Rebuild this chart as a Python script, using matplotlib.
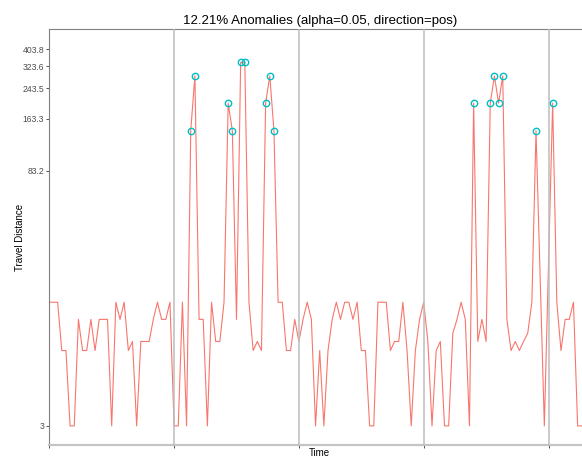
import numpy as np
import matplotlib
matplotlib.use("Agg")
import matplotlib.pyplot as plt

plt.rcParams['font.family'] = ['Liberation Sans', 'DejaVu Sans']

# travel distance per time step (log scale)
distance = [
    15, 15, 15, 8, 8, 3, 3, 12, 8, 8,
    12, 8, 12, 12, 12, 3, 15, 12, 15, 8,
    9, 3, 9, 9, 9, 12, 15, 12, 12, 15,
    3, 3, 15, 3, 140, 285, 12, 12, 3, 15,
    9, 9, 15, 200, 140, 12, 340, 340, 15, 8,
    9, 8, 200, 285, 140, 15, 15, 8, 8, 12,
    9, 12, 15, 12, 3, 8, 3, 8, 12, 15,
    12, 15, 15, 12, 15, 8, 8, 3, 3, 15,
    15, 15, 8, 9, 9, 15, 8, 3, 8, 12,
    15, 9, 3, 8, 9, 3, 3, 10, 12, 15,
    12, 3, 200, 9, 12, 9, 200, 285, 200, 285,
    12, 8, 9, 8, 9, 10, 15, 140, 20, 3,
    25, 200, 15, 8, 12, 12, 15, 3, 3, 3, 8,
]
anomaly_idx = [34, 35, 43, 44, 46, 47, 52, 53, 54,
               102, 106, 107, 108, 109, 117, 121]
day_breaks = [30, 60, 90, 120]
y_ticks = [3, 83.2, 163.3, 243.5, 323.6, 403.8]
y_tick_labels = ['3', '83.2', '163.3', '243.5', '323.6', '403.8']

x = np.arange(len(distance))
y = np.array(distance, dtype=float)

W, H = 582, 457
fig = plt.figure(figsize=(W / 100, H / 100), dpi=100)
left, right, top, bottom = 49.3, 590.1, 29.3, 445.0
ax = fig.add_axes([left / W, (H - bottom) / H, (right - left) / W, (bottom - top) / H])

ax.plot(x, y, color='#F8766D', lw=0.8, zorder=2)
ax.plot(x[anomaly_idx], y[anomaly_idx], 'o', ms=4.6, mfc='none',
        mec='#00BFC4', mew=1.0, zorder=4)
for b in day_breaks:
    ax.axvline(b, color='#bdbdbd', lw=1.1, zorder=3)

ax.set_yscale('log')
ax.set_ylim(2.34, 523)
ax.set_xlim(0, len(distance) - 1)
ax.set_yticks(y_ticks)
ax.set_yticklabels(y_tick_labels)
ax.yaxis.set_minor_locator(matplotlib.ticker.NullLocator())
ax.set_xticks([0] + day_breaks)
ax.set_xticklabels([])
ax.tick_params(axis='both', length=2.2, width=0.6, color='#333333',
               labelsize=6.2, labelcolor='#4d4d4d', pad=1.5)

for s in ['left', 'top', 'right']:
    ax.spines[s].set_color('#808080')
    ax.spines[s].set_linewidth(0.8)
ax.spines['bottom'].set_color('#c4c4c4')
ax.spines['bottom'].set_linewidth(1.6)

ax.set_title('12.21% Anomalies (alpha=0.05, direction=pos)', fontsize=9.5, pad=3.5)
ax.set_ylabel('Travel Distance', fontsize=7)
ax.yaxis.set_label_coords(-0.045, 0.5)
ax.set_xlabel('Time', fontsize=7, va='top')
ax.xaxis.set_label_coords(0.5, -0.008)

fig.savefig('out.png', dpi=100)
